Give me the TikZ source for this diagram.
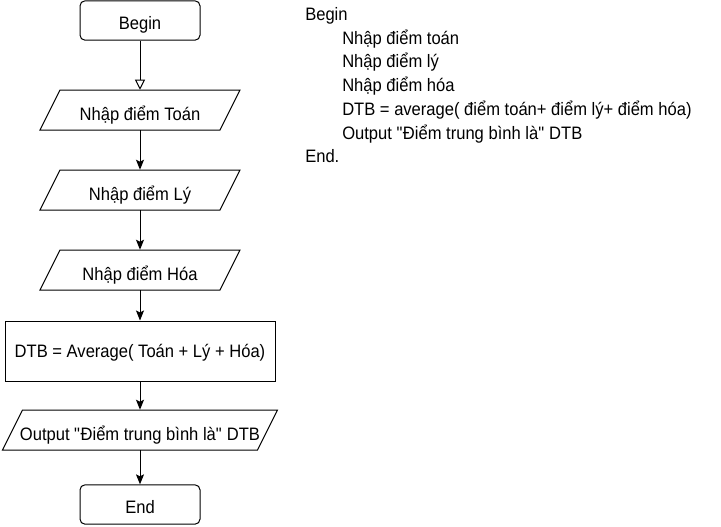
\documentclass[tikz,border=0pt]{standalone}
\usepackage{fontspec}
\setmainfont[FakeStretch=0.92]{Liberation Sans}
\usetikzlibrary{arrows.meta,calc}
\tikzset{
  px/.style={x=0.75pt,y=-0.75pt},
  fnt/.style={font=\fontsize{13.5pt}{16pt}\selectfont},
  term/.style={fnt,draw,line width=0.75pt,rounded corners=3.75pt,minimum width=90pt,minimum height=29.5pt,inner sep=0pt,text height=14.4pt,text depth=0.5pt},
  io/.style={fnt,minimum width=120pt,minimum height=30pt,inner sep=0pt,text height=15.5pt,text depth=0.5pt},
  proc/.style={fnt,draw,line width=0.75pt,minimum width=202.5pt,minimum height=45pt,inner sep=0pt,text height=9.5pt,text depth=0.5pt},
  ioshape/.style={draw,line width=0.75pt},
  flow/.style={line width=0.75pt,-{Stealth[length=7.5pt,width=6pt,inset=1.5pt]}},
  openflow/.style={line width=0.75pt,-{Triangle[open,length=7.5pt,width=7.5pt]}},
  code/.style={fnt,anchor=base west,inner sep=0pt},
}
\newcommand{\paral}[2]{%
  \draw[ioshape] ($(#1)+({-(#2)+10},-20)$) -- ($(#1)+({(#2)+10},-20)$) -- ($(#1)+({(#2)-10},20)$) -- ($(#1)+({-(#2)-10},20)$) -- cycle;}
\begin{document}
\begin{tikzpicture}[px]
\useasboundingbox (0,0) rectangle (721,526);
\node[term] (begin) at (140,20.5) {Begin};
\node[io] (p1) at (140,110) {Nhập điểm Toán};
\node[io] (p2) at (140,190) {Nhập điểm Lý};
\node[io] (p3) at (140,270) {Nhập điểm Hóa};
\node[proc] (dtb) at (140,351) {DTB = Average( Toán + Lý + Hóa)};
\node[io] (out) at (140,430) {Output \textquotedbl Điểm trung bình là\textquotedbl{} DTB};
\node[term] (end) at (140,504.5) {End};
\paral{p1}{90}
\paral{p2}{90}
\paral{p3}{90}
\paral{out}{127.5}
\draw[openflow] (begin.south) -- (p1.north);
\draw[flow] (p1.south) -- (p2.north);
\draw[flow] (p2.south) -- (p3.north);
\draw[flow] (p3.south) -- (dtb.north);
\draw[flow] (dtb.south) -- (out.north);
\draw[flow] (out.south) -- (end.north);
\node[code] (c1) at (305,20.5) {Begin};
\node[code] (c2) at (342,44.2) {Nhập điểm toán};
\node[code] (c3) at (342,67.9) {Nhập điểm lý};
\node[code] (c4) at (342,91.6) {Nhập điểm hóa};
\node[code] (c5) at (342,115.3) {DTB = average( điểm toán+ điểm lý+ điểm hóa)};
\node[code] (c6) at (342,139) {Output \textquotedbl Điểm trung bình là\textquotedbl{} DTB};
\node[code] (c7) at (305,162.7) {End.};
\end{tikzpicture}
\end{document}
